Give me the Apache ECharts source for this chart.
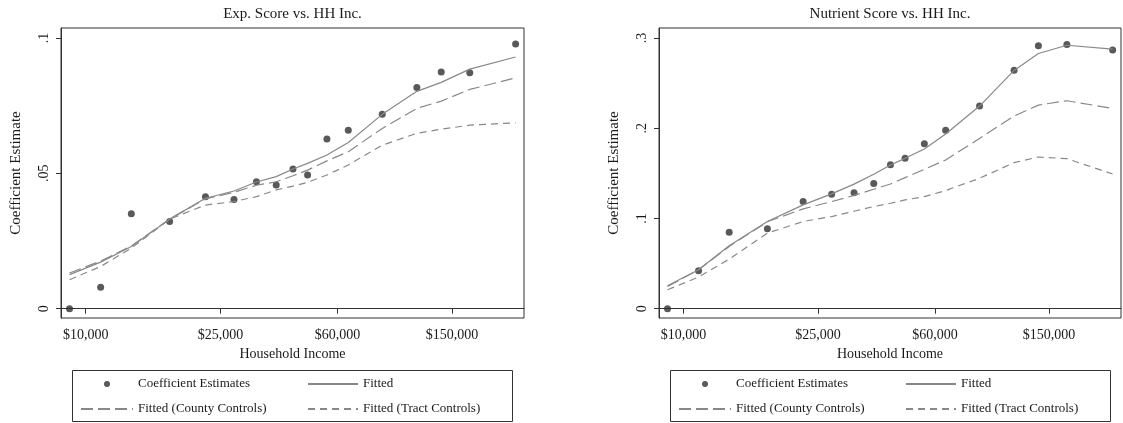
<!DOCTYPE html>
<html>
<head>
<meta charset="utf-8">
<script src="https://cdn.jsdelivr.net/npm/echarts@6/dist/echarts.min.js"></script>
<style>
html,body{margin:0;padding:0;background:#fff;}
#chart{width:1123px;height:423px;}
</style>
</head>
<body>
<div id="chart"></div>
<script>
// x position of each income group on the (log-income) axis
const logIncomePos = [9.091, 9.321, 9.548, 9.831, 10.096, 10.307, 10.473, 10.619, 10.743, 10.851, 10.994, 11.152, 11.403, 11.659, 11.839, 12.050, 12.389];
// x-axis tick positions and labels
const xTickPos = [9.2103, 10.2066, 11.0727, 11.9184];
const xTickLabels = ['$10,000', '$25,000', '$60,000', '$150,000'];

// Panel 1: Exp. Score vs. HH Inc.
const expPoints = [0.0, 0.0079, 0.0351, 0.0322, 0.0414, 0.0403, 0.0469, 0.0457, 0.0516, 0.0494, 0.0627, 0.0659, 0.0718, 0.0817, 0.0874, 0.0872, 0.0978];
const expFitted = [0.0126, 0.0172, 0.0230, 0.0331, 0.0408, 0.0435, 0.0468, 0.0488, 0.0516, 0.0537, 0.0568, 0.0614, 0.0718, 0.0803, 0.0836, 0.0885, 0.0930];
const expCounty = [0.0132, 0.0176, 0.0232, 0.0331, 0.0406, 0.0430, 0.0456, 0.0469, 0.0491, 0.0512, 0.0546, 0.0580, 0.0666, 0.0740, 0.0767, 0.0810, 0.0853];
const expTract = [0.0107, 0.0156, 0.0224, 0.0331, 0.0383, 0.0396, 0.0414, 0.0439, 0.0453, 0.0467, 0.0494, 0.0531, 0.0604, 0.0648, 0.0663, 0.0678, 0.0687];
const expYTicks = [0, 0.05, 0.1];
const expYTickLabels = ['0', '.05', '.1'];

// Panel 2: Nutrient Score vs. HH Inc.
const nutPoints = [0.0, 0.0420, 0.0848, 0.0885, 0.1187, 0.1268, 0.1286, 0.1386, 0.1594, 0.1666, 0.1828, 0.1978, 0.2247, 0.2643, 0.2914, 0.2928, 0.2867];
const nutFitted = [0.0254, 0.0431, 0.0697, 0.0966, 0.1150, 0.1272, 0.1380, 0.1490, 0.1592, 0.1666, 0.1769, 0.1935, 0.2245, 0.2640, 0.2827, 0.2919, 0.2875];
const nutCounty = [0.0245, 0.0431, 0.0690, 0.0963, 0.1106, 0.1187, 0.1255, 0.1323, 0.1382, 0.1452, 0.1545, 0.1648, 0.1887, 0.2134, 0.2256, 0.2304, 0.2219];
const nutTract = [0.0210, 0.0350, 0.0550, 0.0837, 0.0966, 0.1021, 0.1080, 0.1132, 0.1168, 0.1205, 0.1242, 0.1309, 0.1445, 0.1618, 0.1681, 0.1662, 0.1493];
const nutYTicks = [0, 0.1, 0.2, 0.3];
const nutYTickLabels = ['0', '.1', '.2', '.3'];

const titles = ['Exp. Score vs. HH Inc.', 'Nutrient Score vs. HH Inc.'];
const seriesNames = ['Coefficient Estimates', 'Fitted', 'Fitted (County Controls)', 'Fitted (Tract Controls)'];

const FONT = "'Liberation Serif', 'Times New Roman', 'DejaVu Serif', serif";
const TXT = '#1a1a1a';
const AX = '#333333';
const LINE = '#888888';
const DOT = '#2f2f2f';

function pairs(ys) { return ys.map((y, i) => [logIncomePos[i], y]); }
function lookup(vals, labels) {
  return function (v) {
    for (let i = 0; i < vals.length; i++) if (Math.abs(vals[i] - v) < 1e-6) return labels[i];
    return '';
  };
}

const panels = [
  { left: 61, width: 463, yMin: -0.00343, yMax: 0.1037, yTicks: expYTicks, yLabels: expYTickLabels,
    pts: expPoints, fit: expFitted, cty: expCounty, trc: expTract },
  { left: 659, width: 462, yMin: -0.0103, yMax: 0.311, yTicks: nutYTicks, yLabels: nutYTickLabels,
    pts: nutPoints, fit: nutFitted, cty: nutCounty, trc: nutTract }
];

const hideSym = { opacity: 0, borderWidth: 0 };
const grid = [], xAxis = [], yAxis = [], series = [], title = [], legend = [], graphic = [];
panels.forEach((p, i) => {
  grid.push({ left: p.left, top: 28, width: p.width, height: 290, show: true,
    borderColor: AX, borderWidth: 1, backgroundColor: '#fff' });
  title.push({ text: titles[i], left: p.left + p.width / 2, top: 7, textAlign: 'center', padding: 0,
    textStyle: { fontFamily: FONT, fontSize: 15, fontWeight: 'normal', color: TXT } });
  xAxis.push({ type: 'value', gridIndex: i, min: 9.028, max: 12.451,
    name: 'Household Income', nameLocation: 'middle', nameGap: 27,
    nameTextStyle: { fontFamily: FONT, fontSize: 14, color: TXT },
    axisLine: { show: true, lineStyle: { color: AX, width: 1 } },
    splitLine: { show: false },
    axisTick: { show: true, customValues: xTickPos, length: 5, lineStyle: { color: AX, width: 1 } },
    axisLabel: { show: true, customValues: xTickPos, formatter: lookup(xTickPos, xTickLabels),
      margin: 10, fontFamily: FONT, fontSize: 14, color: TXT } });
  yAxis.push({ type: 'value', gridIndex: i, min: p.yMin, max: p.yMax,
    name: 'Coefficient Estimate', nameLocation: 'middle', nameGap: 37,
    nameTextStyle: { fontFamily: FONT, fontSize: 15, color: TXT },
    axisLine: { show: true, lineStyle: { color: AX, width: 1 } },
    splitLine: { show: false },
    axisTick: { show: true, customValues: p.yTicks, length: 5, lineStyle: { color: AX, width: 1 } },
    axisLabel: { show: true, customValues: p.yTicks, formatter: lookup(p.yTicks, p.yLabels),
      rotate: 90, margin: 10, fontFamily: FONT, fontSize: 14, color: TXT } });

  series.push({ name: seriesNames[0], type: 'scatter', xAxisIndex: i, yAxisIndex: i,
    data: pairs(p.pts), symbol: 'circle', symbolSize: 7, itemStyle: { color: DOT } });
  const lineDefs = [[p.fit, 'solid'], [p.cty, [12, 5]], [p.trc, [7, 5]]];
  lineDefs.forEach((d, k) => {
    series.push({ name: seriesNames[k + 1], type: 'line', xAxisIndex: i, yAxisIndex: i,
      data: pairs(d[0]), symbol: 'none', showSymbol: false, smooth: false,
      itemStyle: { color: LINE }, lineStyle: { color: LINE, width: 1.2, type: d[1] } });
  });

  const off = p.left - 61;
  legend.push({ orient: 'vertical', left: 80 + off, top: 377.5, padding: 0, itemGap: 12,
    itemWidth: 52, itemHeight: 6, selectedMode: false,
    data: [{ name: seriesNames[0] }, { name: seriesNames[2], itemStyle: hideSym }],
    textStyle: { fontFamily: FONT, fontSize: 13, color: TXT } });
  legend.push({ orient: 'vertical', left: 307 + off, top: 377.5, padding: 0, itemGap: 12,
    itemWidth: 50, itemHeight: 6, selectedMode: false,
    data: [{ name: seriesNames[1], itemStyle: hideSym }, { name: seriesNames[3], itemStyle: hideSym }],
    textStyle: { fontFamily: FONT, fontSize: 13, color: TXT } });
  graphic.push({ type: 'rect', z: 0,
    shape: { x: 72.5 + off, y: 370.5, width: 440, height: 51 }, style: { fill: 'none', stroke: AX, lineWidth: 1 } });
});

const chart = echarts.init(document.getElementById('chart'), null, { renderer: 'canvas' });
chart.setOption({
  animation: false,
  backgroundColor: '#fff',
  textStyle: { fontFamily: FONT },
  title, grid, xAxis, yAxis, legend, series, graphic
});
</script>
</body>
</html>
